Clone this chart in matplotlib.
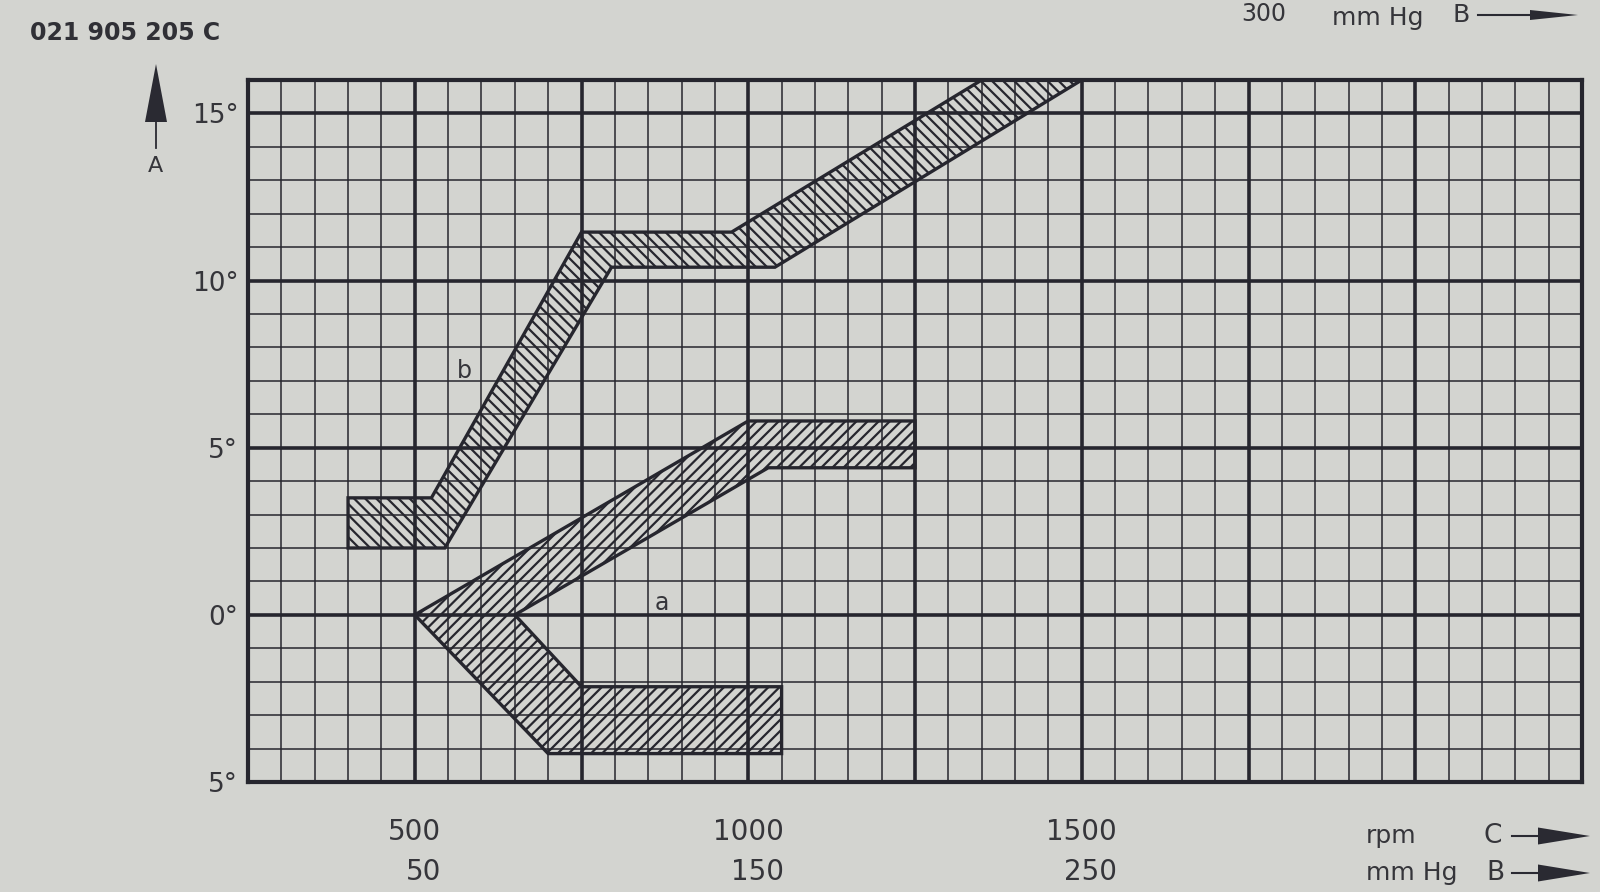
import matplotlib
matplotlib.use("Agg")
import matplotlib.pyplot as plt
from matplotlib.patches import Polygon
from matplotlib.lines import Line2D
from matplotlib.ticker import MultipleLocator, FixedLocator

# ---------------- data ----------------
# band "b" outline (rpm, advance degrees)
band_b_rpm = [400, 400, 525, 750, 975, 1350, 1500, 1040, 795, 545]
band_b_deg = [2.0, 3.5, 3.5, 11.45, 11.45, 16.0, 16.0, 10.4, 10.4, 2.0]

# band "a" outline (rpm, advance degrees)
band_a_rpm = [500, 1000, 1250, 1250, 1030, 650, 750, 1050, 1050, 700]
band_a_deg = [0.0, 5.8, 5.8, 4.4, 4.4, 0.0, -2.15, -2.15, -4.15, -4.15]

# axis ticks / labels
x_label_ticks = [500, 1000, 1500]
x_rpm_labels = ["500", "1000", "1500"]
x_mmhg_labels = ["50", "150", "250"]
y_ticks = [-5, 0, 5, 10, 15]
y_labels = ["5°", "0°", "5°", "10°", "15°"]

x_min, x_max = 250, 2250
y_min, y_max = -5, 16

# ---------------- style ----------------
W, H = 1600, 892
paper = "#d3d4d0"
ink = "#26262e"
text_c = "#35353a"

plt.rcParams["hatch.linewidth"] = 1.6
plt.rcParams["hatch.color"] = ink

fig = plt.figure(figsize=(W / 100, H / 100), dpi=100, facecolor=paper)


def fx(px):
    return px / W


def fy(py):
    return 1 - py / H


ax_l, ax_r, ax_t, ax_b = 248, 1582, 80, 782
ax = fig.add_axes([fx(ax_l), fy(ax_b), fx(ax_r) - fx(ax_l), fy(ax_t) - fy(ax_b)])
ax.set_facecolor(paper)
ax.set_xlim(x_min, x_max)
ax.set_ylim(y_min, y_max)

# grid
ax.xaxis.set_major_locator(MultipleLocator(250))
ax.xaxis.set_minor_locator(MultipleLocator(50))
ax.yaxis.set_major_locator(FixedLocator(y_ticks))
ax.yaxis.set_minor_locator(MultipleLocator(1))
ax.grid(which="major", color=ink, lw=2.6, zorder=1)
ax.grid(which="minor", color=ink, lw=1.1, zorder=1)
ax.set_axisbelow(True)

for s in ax.spines.values():
    s.set_color(ink)
    s.set_linewidth(3.0)

# tick labels
xt_map = {t: f"{r}\n{m}" for t, r, m in zip(x_label_ticks, x_rpm_labels, x_mmhg_labels)}
ax.xaxis.set_major_formatter(lambda v, p: xt_map.get(int(round(v)), ""))
ax.set_yticklabels(y_labels)
ax.tick_params(which="both", length=0)
ax.tick_params(axis="x", pad=26, labelsize=20, labelcolor=text_c)
ax.tick_params(axis="y", pad=7, labelsize=19, labelcolor=text_c)
for lab in ax.get_xticklabels():
    lab.set_multialignment("right")
    lab.set_linespacing(1.55)

# bands
pb = Polygon(list(zip(band_b_rpm, band_b_deg)), closed=True, facecolor="none",
             edgecolor=ink, lw=2.4, hatch="\\\\\\", zorder=3, joinstyle="miter")
pa = Polygon(list(zip(band_a_rpm, band_a_deg)), closed=True, facecolor="none",
             edgecolor=ink, lw=2.4, hatch="///", zorder=3, joinstyle="miter")
ax.add_patch(pb)
ax.add_patch(pa)

ax.text(575, 7.3, "b", fontsize=17, color=text_c, ha="center", va="center", zorder=4)
ax.text(870, 0.35, "a", fontsize=17, color=text_c, ha="center", va="center", zorder=4)

# ---------------- annotations outside the axes ----------------
fig.text(fx(30), fy(33), "021 905 205 C", fontsize=17, fontweight="bold",
         color="#303036", ha="left", va="center")

# A arrow (vertical)
fig.add_artist(Polygon([(fx(145), fy(122)), (fx(167), fy(122)), (fx(156), fy(64))],
                       closed=True, transform=fig.transFigure, facecolor="#2a2a32",
                       edgecolor="none"))
fig.add_artist(Line2D([fx(156), fx(156)], [fy(122), fy(148)], transform=fig.transFigure,
                      color="#2a2a32", lw=1.3))
fig.text(fx(155), fy(166), "A", fontsize=16, color=text_c, ha="center", va="center")


def h_arrow(x0, xm, x1, y, half_h):
    fig.add_artist(Line2D([fx(x0), fx(xm + 2)], [fy(y), fy(y)], transform=fig.transFigure,
                          color="#2a2a32", lw=1.5))
    fig.add_artist(Polygon([(fx(xm), fy(y - half_h)), (fx(xm), fy(y + half_h)), (fx(x1), fy(y))],
                           closed=True, transform=fig.transFigure, facecolor="#2a2a32",
                           edgecolor="none"))


# bottom right legend of axis scales
fig.text(fx(1366), fy(836), "rpm", fontsize=18, color=text_c, ha="left", va="center")
fig.text(fx(1493), fy(836), "C", fontsize=19, color=text_c, ha="center", va="center")
h_arrow(1512, 1538, 1590, 836, 8.5)
fig.text(fx(1366), fy(873), "mm Hg", fontsize=18, color=text_c, ha="left", va="center")
fig.text(fx(1495), fy(873), "B", fontsize=19, color=text_c, ha="center", va="center")
h_arrow(1512, 1538, 1590, 873, 8.5)

# top right
fig.text(fx(1264), fy(21), "300", fontsize=17, color=text_c, ha="center", va="baseline")
fig.text(fx(1332), fy(25), "mm Hg", fontsize=18, color=text_c, ha="left", va="baseline")
fig.text(fx(1461), fy(15), "B", fontsize=18, color=text_c, ha="center", va="center")
h_arrow(1478, 1530, 1578, 15, 5)

fig.savefig("out.png", dpi=100, facecolor=paper)
